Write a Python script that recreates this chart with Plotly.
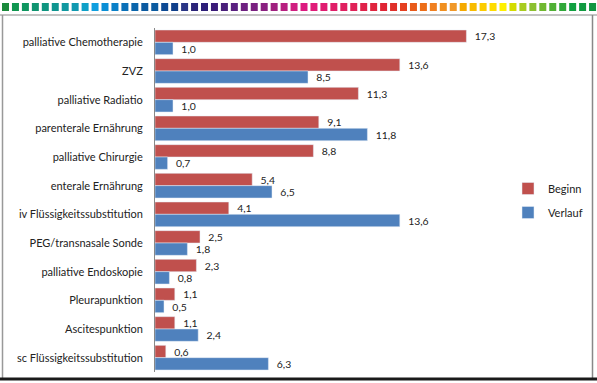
import plotly.graph_objects as go

categories = [
    "palliative Chemotherapie", "ZVZ", "palliative Radiatio", "parenterale Ernährung",
    "palliative Chirurgie", "enterale Ernährung", "iv Flüssigkeitssubstitution",
    "PEG/transnasale Sonde", "palliative Endoskopie", "Pleurapunktion",
    "Ascitespunktion", "sc Flüssigkeitssubstitution",
]
beginn = [17.3, 13.6, 11.3, 9.1, 8.8, 5.4, 4.1, 2.5, 2.3, 1.1, 1.1, 0.6]
verlauf = [1.0, 8.5, 1.0, 11.8, 0.7, 6.5, 13.6, 1.8, 0.8, 0.5, 2.4, 6.3]

W, H = 597, 383
PL, PR, PT, PB = 155, 515, 28, 372  # plot area in pixels

FONT = "Lato, Carlito, Calibri, sans-serif"

fig = go.Figure()
fig.add_trace(go.Bar(
    y=categories, x=beginn, name="Beginn", orientation="h",
    marker=dict(color="#C0504D"),
    texttemplate="  %{x:.1f}", textposition="outside", cliponaxis=False,
    textfont=dict(size=11, color="#222222", family=FONT),
    legendgroup="a",
))
fig.add_trace(go.Bar(
    y=categories, x=verlauf, name="Verlauf", orientation="h",
    marker=dict(color="#4F81BD"),
    texttemplate="  %{x:.1f}", textposition="outside", cliponaxis=False,
    textfont=dict(size=11, color="#222222", family=FONT),
    legendgroup="b",
))


def px(x):
    return (x - PL) / (PR - PL)


def py(y):
    return (PB - y) / (PB - PT)


shapes = []
# colored strip on top
stops = [
    "#1a8a3c", "#0f9650", "#0e9660", "#0f9470", "#0e9580", "#0e9590", "#1098a0", "#1099b0",
    "#0ea0c8", "#0f9fdf", "#0a8fd6", "#0a80c8", "#0a70b8", "#0a65ab", "#0b5aa0",
    "#0b5ba0", "#0d4a94", "#0f3f8a", "#2a3585", "#2b2378", "#2d1e78", "#3a1a78", "#4a1f7a",
    "#5a2080", "#6e2080", "#7a2080", "#8a2080", "#a0207f", "#b81f80", "#d01f80",
    "#dc1a80", "#e01c78", "#e01c70", "#e01e68", "#e02060", "#e02258", "#e0224a", "#e0243e",
    "#e02434", "#e0302a", "#e54020", "#e85a1a", "#ec6e18", "#f08020", "#f09020",
    "#f09828", "#f5aa00", "#f8bc00", "#fccc00", "#fedc00", "#fff000", "#d4dc00", "#a8cc20",
    "#8cc030", "#70b830", "#50b035", "#30a83a", "#10a040", "#109a40", "#109540",
]
for i, c in enumerate(stops):
    x0 = 2 + i * 9.95
    shapes.append(dict(type="rect", xref="paper", yref="paper",
                       x0=px(x0), x1=px(x0 + 7), y0=py(11), y1=py(3),
                       fillcolor=c, line=dict(width=0), layer="above"))
# frame
shapes.append(dict(type="line", xref="paper", yref="paper", x0=px(0), x1=px(W),
                   y0=py(15), y1=py(15), line=dict(color="#c4c4c4", width=2)))
shapes.append(dict(type="line", xref="paper", yref="paper", x0=px(2.5), x1=px(2.5),
                   y0=py(15), y1=py(379), line=dict(color="#999999", width=1.5)))
shapes.append(dict(type="line", xref="paper", yref="paper", x0=px(592.5), x1=px(592.5),
                   y0=py(15), y1=py(379), line=dict(color="#888888", width=1.5)))
shapes.append(dict(type="line", xref="paper", yref="paper", x0=px(0), x1=px(W),
                   y0=py(379), y1=py(379), line=dict(color="#1a1a1a", width=3)))

fig.update_layout(
    width=W, height=H,
    margin=dict(l=PL, r=W - PR, t=PT, b=H - PB, pad=0, autoexpand=False),
    paper_bgcolor="white", plot_bgcolor="white",
    barmode="group", bargap=0.14, bargroupgap=0,
    separators=",.",
    font=dict(family=FONT, size=11, color="#222222"),
    showlegend=True,
    legend=dict(xref="container", yref="container",
                x=(508) / W, y=1 - 174 / H, xanchor="left", yanchor="top",
                font=dict(size=11, family=FONT, color="#222222"),
                tracegroupgap=5, traceorder="grouped",
                itemwidth=30, bgcolor="rgba(0,0,0,0)"),
    xaxis=dict(range=[0, 20], visible=False, fixedrange=True),
    yaxis=dict(autorange="reversed", showline=True, linecolor="#888888", linewidth=1,
               ticks="", showgrid=False, ticklabelstandoff=9,
               tickfont=dict(size=11, family=FONT, color="#222222")),
    shapes=shapes,
)

fig.write_html("out.html")
